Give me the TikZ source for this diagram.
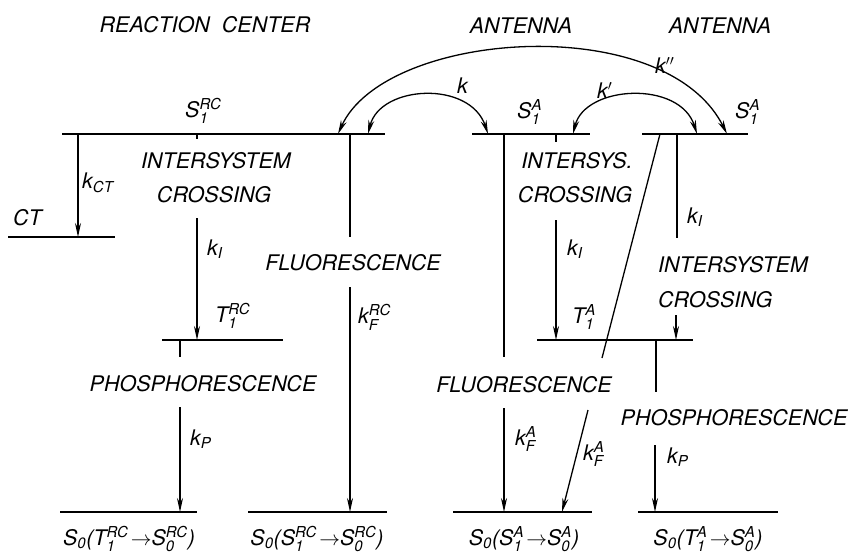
\documentclass[tikz,border=0pt]{standalone}
\usepackage{amsmath}
\usepackage{fontspec}
\setmainfont{TeX Gyre Heros}
\usetikzlibrary{arrows.meta}
\newcommand\ix[3]{#1\ensuremath{_{\text{#2}}^{\text{#3}}}}
\newcommand\sbx[2]{#1\ensuremath{_{\text{#2}}}}
\begin{document}
\begin{tikzpicture}[x=1pt,y=-1pt,
  lev/.style={line width=2pt},
  ln/.style={line width=1.3pt},
  arr/.style={ln,-{Stealth[length=14pt,width=6pt]}},
  darr/.style={ln,{Stealth[length=14pt,width=6pt]}-{Stealth[length=14pt,width=6pt]}},
  lbl/.style={inner sep=0pt,anchor=base,font=\fontsize{21.5}{24}\selectfont\itshape},
  lbw/.style={lbl,anchor=base west}]
\useasboundingbox (0,0) rectangle (849,554);

% ---- levels ----
\coordinate (rcL) at (62,134);  \coordinate (rcR) at (385,134);
\coordinate (maL) at (472,134); \coordinate (maR) at (590,134);
\coordinate (raL) at (642,134); \coordinate (raR) at (748,134);
\coordinate (ctL) at (8,237);   \coordinate (ctR) at (115,237);
\coordinate (trL) at (162,340); \coordinate (trR) at (283,340);
\coordinate (taL) at (537,340); \coordinate (taR) at (693,340);
\coordinate (b1L) at (60,512);  \coordinate (b1R) at (197,512);
\coordinate (b2L) at (248,512); \coordinate (b2R) at (387,512);
\coordinate (b3L) at (453,512); \coordinate (b3R) at (592,512);
\coordinate (b4L) at (638,512); \coordinate (b4R) at (778,512);
\foreach \a in {rc,ma,ra,ct,tr,ta,b1,b2,b3,b4}{\draw[lev] (\a L) -- (\a R);}

% ---- vertical transitions ----
\coordinate (ct0) at (78,134);   \coordinate (ct1) at (78,237);
\draw[arr] (ct0) -- (ct1);
\coordinate (t1a) at (197,134);  \coordinate (t1b) at (197,139);
\draw[ln] (t1a) -- (t1b);
\coordinate (ki0) at (197,218);  \coordinate (ki1) at (197,340);
\draw[arr] (ki0) -- (ki1);
\coordinate (t2a) at (180,340);  \coordinate (t2b) at (180,357);
\draw[ln] (t2a) -- (t2b);
\coordinate (kp0) at (180,407);  \coordinate (kp1) at (180,512);
\draw[arr] (kp0) -- (kp1);
\coordinate (f0) at (350,134);   \coordinate (f1) at (350,237);
\draw[ln] (f0) -- (f1);
\coordinate (f2) at (350,287);   \coordinate (f3) at (350,512);
\draw[arr] (f2) -- (f3);
% middle antenna
\coordinate (m0) at (504,134);   \coordinate (m1) at (504,357);
\draw[ln] (m0) -- (m1);
\coordinate (m2) at (504,408);   \coordinate (m3) at (504,512);
\draw[arr] (m2) -- (m3);
\coordinate (t3a) at (556,134);  \coordinate (t3b) at (556,142);
\draw[ln] (t3a) -- (t3b);
\coordinate (mi0) at (556,220);  \coordinate (mi1) at (556,340);
\draw[arr] (mi0) -- (mi1);
% right antenna
\coordinate (r0) at (677,134);   \coordinate (r1) at (677,238);
\draw[ln] (r0) -- (r1);
\coordinate (r2) at (676,315);   \coordinate (r3) at (676,340);
\draw[arr] (r2) -- (r3);
\coordinate (p0) at (656,340);   \coordinate (p1) at (656,392);
\draw[ln] (p0) -- (p1);
\coordinate (p2) at (655,445);   \coordinate (p3) at (655,512);
\draw[arr] (p2) -- (p3);
% diagonal fluorescence
\coordinate (d0) at (660,134);   \coordinate (d1) at (602,358);
\draw[ln] (d0) -- (d1);
\coordinate (d2) at (588,410);   \coordinate (d3) at (562,512);
\draw[arr] (d2) -- (d3);

% ---- energy transfer arcs ----
\coordinate (kk0) at (338,134);  \coordinate (kk1) at (727,134);
\draw[darr] (kk0) .. controls (385,30) and (665,10) .. (kk1);
\coordinate (k0) at (368,134);   \coordinate (k1) at (488,134);
\draw[darr] (k0) .. controls (380,85) and (470,80) .. (k1);
\coordinate (kp0a) at (573,134); \coordinate (kp1a) at (697,134);
\draw[darr] (kp0a) .. controls (585,85) and (680,80) .. (kp1a);

% ---- labels ----
\node[lbl] (hrc) at (205,32) {REACTION\ \ CENTER};
\node[lbl] (ha1) at (521,33) {ANTENNA};
\node[lbl] (ha2) at (720,33) {ANTENNA};
\node[lbw] (s1rc) at (185,117) {\ix{S}{1}{RC}};
\node[lbw] (s1a) at (517,118) {\ix{S}{1}{A}};
\node[lbw] (s1b) at (735,118) {\ix{S}{1}{A}};
\node[lbw] (lk) at (457,93) {k};
\node[lbw] (lk1) at (597,98) {k$'$};
\node[lbw] (lk2) at (655,73) {k$''$};
\node[lbw] (lkct) at (82,188) {\sbx{k}{CT}};
\node[lbw] (lct) at (13,225) {CT};
\node[lbl] (isc1) at (216,168) {INTERSYSTEM};
\node[lbl] (isc2) at (214,202) {CROSSING};
\node[lbw] (lki) at (207,255) {\sbx{k}{I}};
\node[lbw] (lt1) at (215,322) {\ix{T}{1}{RC}};
\node[lbl] (fl1) at (353,270) {FLUORESCENCE};
\node[lbw] (lkf) at (358,323) {\ix{k}{F}{RC}};
\node[lbl] (ph1) at (203,391) {PHOSPHORESCENCE};
\node[lbw] (lkp) at (190,445) {\sbx{k}{P}};
\node[lbl] (is2a) at (577,168) {INTERSYS.};
\node[lbl] (is2b) at (575,202) {CROSSING};
\node[lbw] (lki2) at (567,255) {\sbx{k}{I}};
\node[lbw] (lki3) at (687,223) {\sbx{k}{I}};
\node[lbw] (is3a) at (658,272) {INTERSYSTEM};
\node[lbw] (is3b) at (658,307) {CROSSING};
\node[lbw] (lt2) at (572,323) {\ix{T}{1}{A}};
\node[lbl] (fl2) at (524,392) {FLUORESCENCE};
\node[lbl] (ph2) at (734,425) {PHOSPHORESCENCE};
\node[lbw] (lkf2) at (515,445) {\ix{k}{F}{A}};
\node[lbw] (lkf3) at (583,460) {\ix{k}{F}{A}};
\node[lbw] (lkp2) at (667,463) {\sbx{k}{P}};
\node[lbl] (bl1) at (129,545) {S$_{\text{0}}$(T$_{\text{1}}^{\text{RC}}\!\rightarrow$S$_{\text{0}}^{\text{RC}}$)};
\node[lbl] (bl2) at (317,545) {S$_{\text{0}}$(S$_{\text{1}}^{\text{RC}}\!\rightarrow$S$_{\text{0}}^{\text{RC}}$)};
\node[lbl] (bl3) at (524,545) {S$_{\text{0}}$(S$_{\text{1}}^{\text{A}}\!\rightarrow$S$_{\text{0}}^{\text{A}}$)};
\node[lbl] (bl4) at (708,545) {S$_{\text{0}}$(T$_{\text{1}}^{\text{A}}\!\rightarrow$S$_{\text{0}}^{\text{A}}$)};
\end{tikzpicture}
\end{document}
